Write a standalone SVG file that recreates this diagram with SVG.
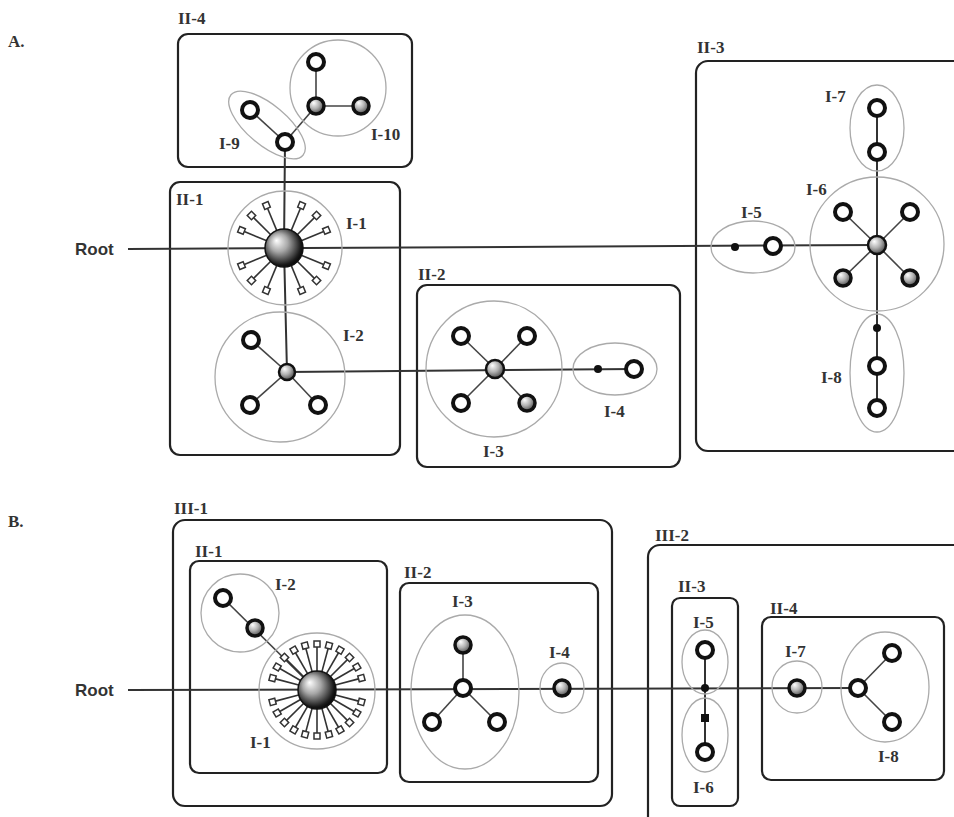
<svg xmlns="http://www.w3.org/2000/svg" xmlns:xlink="http://www.w3.org/1999/xlink" width="954" height="817" viewBox="0 0 954 817">
<defs>
<radialGradient id="gs" cx="0.42" cy="0.4" r="0.65" fx="0.35" fy="0.3">
<stop offset="0" stop-color="#ffffff"/><stop offset="0.5" stop-color="#b0b0b0"/><stop offset="1" stop-color="#404040"/>
</radialGradient>
<radialGradient id="gb" cx="0.45" cy="0.45" r="0.6" fx="0.3" fy="0.3">
<stop offset="0" stop-color="#ffffff"/><stop offset="0.4" stop-color="#a8a8a8"/><stop offset="0.85" stop-color="#1a1a1a"/><stop offset="1" stop-color="#000"/>
</radialGradient>
<g id="spk"><line x1="18" y1="0" x2="43" y2="0" stroke="#333" stroke-width="1.6"/><rect x="43" y="-3" width="6" height="6" fill="#fff" stroke="#333" stroke-width="1.5"/></g>
</defs>
<style>
.box{fill:none;stroke:#222;stroke-width:2.2}
.grp{fill:none;stroke:#aaa;stroke-width:1.3}
.ln{stroke:#333;stroke-width:2;fill:none}
.sp{stroke:#444;stroke-width:1.6;fill:none}
.hn{fill:#fff;stroke:#111;stroke-width:4}
.sn{fill:url(#gs);stroke:#111;stroke-width:3.5}
.cn{fill:url(#gs);stroke:#111;stroke-width:2.5}
.big{fill:url(#gb);stroke:#111;stroke-width:1.5}
.dot{fill:#111}
.lbl{font-family:"Liberation Serif",serif;font-weight:bold;font-size:17px;fill:#333}
.root{font-family:"Liberation Sans",Arial,sans-serif;font-weight:bold;font-size:17px;fill:#333}
</style>
<rect width="954" height="817" fill="#fff"/>

<!-- ===== Part A ===== -->
<text class="lbl" x="8" y="47">A.</text>
<text class="root" x="75" y="255">Root</text>

<g id="A-II-4"><rect class="box" x="178" y="34" width="234" height="133" rx="10"/><text class="lbl" x="178" y="24">II-4</text></g>
<g id="A-II-1"><rect class="box" x="170" y="182" width="230" height="273" rx="10"/><text class="lbl" x="176" y="205">II-1</text></g>
<g id="A-II-2"><rect class="box" x="417" y="285" width="263" height="182" rx="10"/><text class="lbl" x="418" y="280">II-2</text></g>
<g id="A-II-3"><rect class="box" x="696" y="61" width="290" height="390" rx="12"/><text class="lbl" x="697" y="53">II-3</text></g>

<g id="A-connectors">
<line class="ln" x1="128" y1="249" x2="877" y2="245"/>
<polyline class="ln" points="285,142 284,248 287,372"/>
<line class="ln" x1="287" y1="372" x2="634" y2="369"/>
<line class="ln" x1="877" y1="108" x2="877" y2="408"/>
<line class="sp" x1="250" y1="110" x2="285" y2="142"/>
<line class="sp" x1="285" y1="142" x2="316" y2="106"/>
<line class="sp" x1="316" y1="62" x2="316" y2="106"/>
<line class="sp" x1="316" y1="106" x2="361" y2="106"/>
<line class="sp" x1="287" y1="372" x2="251" y2="340"/>
<line class="sp" x1="287" y1="372" x2="250" y2="405"/>
<line class="sp" x1="287" y1="372" x2="318" y2="405"/>
<line class="sp" x1="495" y1="369" x2="461" y2="336"/>
<line class="sp" x1="495" y1="369" x2="527" y2="336"/>
<line class="sp" x1="495" y1="369" x2="461" y2="403"/>
<line class="sp" x1="495" y1="369" x2="527" y2="403"/>
<line class="sp" x1="877" y1="245" x2="843" y2="212"/>
<line class="sp" x1="877" y1="245" x2="910" y2="212"/>
<line class="sp" x1="877" y1="245" x2="843" y2="278"/>
<line class="sp" x1="877" y1="245" x2="910" y2="278"/>
</g>

<g id="A-I-9">
<ellipse class="grp" cx="267" cy="125" rx="47" ry="20" transform="rotate(40 267 125)"/>
<circle class="hn" cx="250" cy="110" r="8"/><circle class="hn" cx="285" cy="142" r="8"/>
<text class="lbl" x="219" y="149">I-9</text>
</g>
<g id="A-I-10">
<circle class="grp" cx="338" cy="88" r="48"/>
<circle class="hn" cx="316" cy="62" r="8"/><circle class="sn" cx="316" cy="106" r="8"/><circle class="sn" cx="361" cy="106" r="8"/>
<text class="lbl" x="371" y="140">I-10</text>
</g>
<g id="A-I-1">
<circle class="grp" cx="285" cy="248" r="57"/>
<g transform="translate(284 248)">
<use xlink:href="#spk" transform="rotate(22.5)"/><use xlink:href="#spk" transform="rotate(45)"/><use xlink:href="#spk" transform="rotate(67.5)"/>
<use xlink:href="#spk" transform="rotate(112.5)"/><use xlink:href="#spk" transform="rotate(135)"/><use xlink:href="#spk" transform="rotate(157.5)"/>
<use xlink:href="#spk" transform="rotate(202.5)"/><use xlink:href="#spk" transform="rotate(225)"/><use xlink:href="#spk" transform="rotate(247.5)"/>
<use xlink:href="#spk" transform="rotate(292.5)"/><use xlink:href="#spk" transform="rotate(315)"/><use xlink:href="#spk" transform="rotate(337.5)"/>
</g>
<circle class="big" cx="284" cy="248" r="19"/>
<text class="lbl" x="346" y="229">I-1</text>
</g>
<g id="A-I-2">
<circle class="grp" cx="280" cy="377" r="65"/>
<circle class="hn" cx="251" cy="340" r="8"/><circle class="hn" cx="250" cy="405" r="8"/><circle class="hn" cx="318" cy="405" r="8"/>
<circle class="cn" cx="287" cy="372" r="8"/>
<text class="lbl" x="343" y="341">I-2</text>
</g>
<g id="A-I-3">
<circle class="grp" cx="494" cy="369" r="68"/>
<circle class="hn" cx="461" cy="336" r="8"/><circle class="hn" cx="527" cy="336" r="8"/><circle class="hn" cx="461" cy="403" r="8"/><circle class="sn" cx="527" cy="403" r="8"/>
<circle class="cn" cx="495" cy="369" r="9"/>
<text class="lbl" x="483" y="457">I-3</text>
</g>
<g id="A-I-4">
<ellipse class="grp" cx="615" cy="369" rx="42" ry="26"/>
<circle class="dot" cx="598" cy="369" r="4"/><circle class="hn" cx="634" cy="369" r="8"/>
<text class="lbl" x="604" y="417">I-4</text>
</g>
<g id="A-I-5">
<ellipse class="grp" cx="753" cy="247" rx="42" ry="26"/>
<circle class="dot" cx="735" cy="247" r="4"/><circle class="hn" cx="773" cy="246" r="8"/>
<text class="lbl" x="741" y="218">I-5</text>
</g>
<g id="A-I-6">
<circle class="grp" cx="877" cy="244" r="67"/>
<circle class="hn" cx="843" cy="212" r="8"/><circle class="hn" cx="910" cy="212" r="8"/><circle class="sn" cx="843" cy="278" r="8"/><circle class="sn" cx="910" cy="278" r="8"/>
<circle class="cn" cx="877" cy="245" r="9"/>
<text class="lbl" x="806" y="195">I-6</text>
</g>
<g id="A-I-7">
<ellipse class="grp" cx="877" cy="128" rx="27" ry="43"/>
<circle class="hn" cx="877" cy="108" r="8"/><circle class="hn" cx="877" cy="152" r="8"/>
<text class="lbl" x="825" y="102">I-7</text>
</g>
<g id="A-I-8">
<ellipse class="grp" cx="877" cy="373" rx="27" ry="59"/>
<circle class="dot" cx="877" cy="328" r="4"/><circle class="hn" cx="877" cy="366" r="8"/><circle class="hn" cx="877" cy="408" r="8"/>
<text class="lbl" x="821" y="383">I-8</text>
</g>

<!-- ===== Part B ===== -->
<text class="lbl" x="8" y="527">B.</text>
<text class="root" x="75" y="696">Root</text>

<g id="B-III-1"><rect class="box" x="173" y="520" width="439" height="286" rx="12"/><text class="lbl" x="174" y="514">III-1</text></g>
<g id="B-III-2"><rect class="box" x="648" y="545" width="340" height="290" rx="12"/><text class="lbl" x="655" y="541">III-2</text></g>
<g id="B-II-1"><rect class="box" x="190" y="561" width="197" height="212" rx="9"/><text class="lbl" x="195" y="557">II-1</text></g>
<g id="B-II-2"><rect class="box" x="400" y="583" width="198" height="199" rx="9"/><text class="lbl" x="404" y="578">II-2</text></g>
<g id="B-II-3"><rect class="box" x="672" y="598" width="66" height="208" rx="8"/><text class="lbl" x="678" y="592">II-3</text></g>
<g id="B-II-4"><rect class="box" x="762" y="617" width="182" height="163" rx="9"/><text class="lbl" x="770" y="614">II-4</text></g>

<g id="B-connectors">
<line class="ln" x1="128" y1="690" x2="858" y2="688"/>
<line class="sp" x1="223" y1="598" x2="317" y2="691"/>
<line class="ln" x1="705" y1="650" x2="705" y2="752"/>
<line class="sp" x1="463" y1="645" x2="463" y2="688"/>
<line class="sp" x1="463" y1="688" x2="432" y2="722"/>
<line class="sp" x1="463" y1="688" x2="497" y2="722"/>
<line class="sp" x1="858" y1="688" x2="892" y2="653"/>
<line class="sp" x1="858" y1="688" x2="892" y2="722"/>
</g>

<g id="B-I-2">
<circle class="grp" cx="240" cy="613" r="39"/>
<circle class="hn" cx="223" cy="598" r="8"/><circle class="sn" cx="255" cy="628" r="8"/>
<text class="lbl" x="275" y="590">I-2</text>
</g>
<g id="B-I-1">
<circle class="grp" cx="317" cy="691" r="58"/>
<g transform="translate(317 690)">
<use xlink:href="#spk" transform="rotate(15)"/><use xlink:href="#spk" transform="rotate(30)"/><use xlink:href="#spk" transform="rotate(45)"/><use xlink:href="#spk" transform="rotate(60)"/><use xlink:href="#spk" transform="rotate(75)"/><use xlink:href="#spk" transform="rotate(90)"/>
<use xlink:href="#spk" transform="rotate(105)"/><use xlink:href="#spk" transform="rotate(120)"/><use xlink:href="#spk" transform="rotate(135)"/><use xlink:href="#spk" transform="rotate(150)"/><use xlink:href="#spk" transform="rotate(165)"/>
<use xlink:href="#spk" transform="rotate(195)"/><use xlink:href="#spk" transform="rotate(210)"/><use xlink:href="#spk" transform="rotate(225)"/><use xlink:href="#spk" transform="rotate(240)"/><use xlink:href="#spk" transform="rotate(255)"/><use xlink:href="#spk" transform="rotate(270)"/>
<use xlink:href="#spk" transform="rotate(285)"/><use xlink:href="#spk" transform="rotate(300)"/><use xlink:href="#spk" transform="rotate(315)"/><use xlink:href="#spk" transform="rotate(330)"/><use xlink:href="#spk" transform="rotate(345)"/>
</g>
<circle class="big" cx="317" cy="690" r="19"/>
<text class="lbl" x="250" y="748">I-1</text>
</g>
<g id="B-I-3">
<ellipse class="grp" cx="465" cy="692" rx="54" ry="77"/>
<circle class="sn" cx="463" cy="645" r="8"/><circle class="hn" cx="432" cy="722" r="8"/><circle class="hn" cx="497" cy="722" r="8"/>
<circle class="hn" cx="463" cy="688" r="8"/>
<text class="lbl" x="452" y="607">I-3</text>
</g>
<g id="B-I-4">
<ellipse class="grp" cx="562" cy="688" rx="22" ry="25"/>
<circle class="sn" cx="562" cy="688" r="8"/>
<text class="lbl" x="549" y="658">I-4</text>
</g>
<g id="B-I-5">
<ellipse class="grp" cx="705" cy="662" rx="23" ry="32"/>
<circle class="hn" cx="705" cy="650" r="8"/><circle class="dot" cx="705" cy="688" r="4"/>
<text class="lbl" x="693" y="628">I-5</text>
</g>
<g id="B-I-6">
<ellipse class="grp" cx="705" cy="735" rx="23" ry="37"/>
<rect class="dot" x="701" y="714" width="8" height="8"/><circle class="hn" cx="705" cy="752" r="8"/>
<text class="lbl" x="693" y="793">I-6</text>
</g>
<g id="B-I-7">
<ellipse class="grp" cx="797" cy="687" rx="25" ry="26"/>
<circle class="sn" cx="797" cy="688" r="8"/>
<text class="lbl" x="785" y="657">I-7</text>
</g>
<g id="B-I-8">
<ellipse class="grp" cx="885" cy="687" rx="44" ry="55"/>
<circle class="hn" cx="892" cy="653" r="8"/><circle class="hn" cx="892" cy="722" r="8"/><circle class="hn" cx="858" cy="688" r="8"/>
<text class="lbl" x="878" y="762">I-8</text>
</g>
</svg>
